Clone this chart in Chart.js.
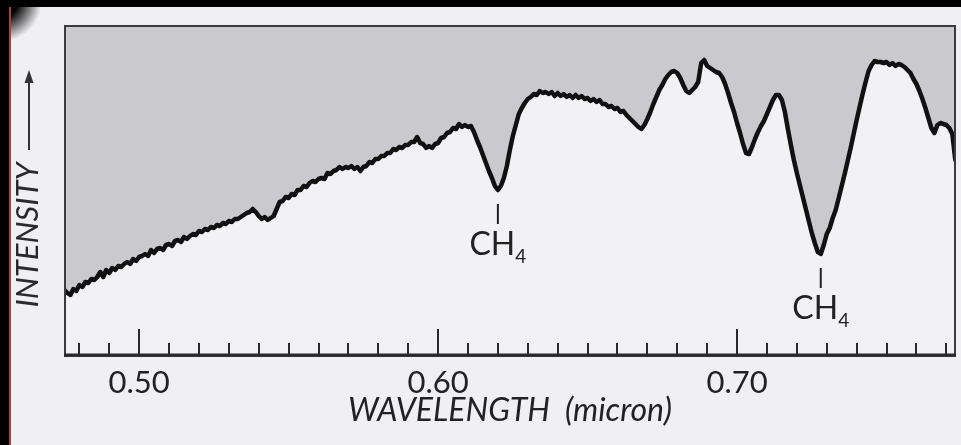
<!DOCTYPE html>
<html>
<head>
<meta charset="utf-8">
<script src="https://cdn.jsdelivr.net/npm/chart.js@4.4.1/dist/chart.umd.min.js"></script>
<style>
html,body{margin:0;padding:0;width:961px;height:445px;overflow:hidden;background:#f0f0f3;}
#page{position:relative;width:961px;height:445px;overflow:hidden;background:#f0f0f3;}
#page canvas{position:absolute;left:0;top:0;}
#topband{position:absolute;left:0;top:0;width:961px;height:7px;background:#000;}
#leftband{position:absolute;left:0;top:0;width:9px;height:445px;background:#000;}
#redline{position:absolute;left:9px;top:7px;width:2px;height:438px;background:#a84040;}
#corner{position:absolute;left:0;top:0;width:70px;height:70px;background:radial-gradient(circle at 0 0,#000 0px,#000 18px,rgba(0,0,0,0) 42px);}
</style>
</head>
<body>
<div id="page">
<canvas id="c" width="961" height="445"></canvas>
<div id="corner"></div><div id="topband"></div><div id="leftband"></div><div id="redline"></div>
</div>
<script>
// Wavelength samples (micron)
const wavelengths = [
0.475,0.476,0.477,0.478,0.479,0.480,0.481,0.482,0.483,0.484,
0.485,0.486,0.487,0.488,0.489,0.490,0.491,0.492,0.493,0.494,
0.495,0.496,0.497,0.498,0.499,0.500,0.501,0.502,0.503,0.504,
0.505,0.506,0.507,0.508,0.509,0.510,0.511,0.512,0.513,0.514,
0.515,0.516,0.517,0.518,0.519,0.520,0.521,0.522,0.523,0.524,
0.525,0.526,0.527,0.528,0.529,0.530,0.531,0.532,0.533,0.534,
0.535,0.536,0.537,0.538,0.539,0.540,0.541,0.542,0.543,0.544,
0.545,0.546,0.547,0.548,0.549,0.550,0.551,0.552,0.553,0.554,
0.555,0.556,0.557,0.558,0.559,0.560,0.561,0.562,0.563,0.564,
0.565,0.566,0.567,0.568,0.569,0.570,0.571,0.572,0.573,0.574,
0.575,0.576,0.577,0.578,0.579,0.580,0.581,0.582,0.583,0.584,
0.585,0.586,0.587,0.588,0.589,0.590,0.591,0.592,0.593,0.594,
0.595,0.596,0.597,0.598,0.599,0.600,0.601,0.602,0.603,0.604,
0.605,0.606,0.607,0.608,0.609,0.610,0.611,0.612,0.613,0.614,
0.615,0.616,0.617,0.618,0.619,0.620,0.621,0.622,0.623,0.624,
0.625,0.626,0.627,0.628,0.629,0.630,0.631,0.632,0.633,0.634,
0.635,0.636,0.637,0.638,0.639,0.640,0.641,0.642,0.643,0.644,
0.645,0.646,0.647,0.648,0.649,0.650,0.651,0.652,0.653,0.654,
0.655,0.656,0.657,0.658,0.659,0.660,0.661,0.662,0.663,0.664,
0.665,0.666,0.667,0.668,0.669,0.670,0.671,0.672,0.673,0.674,
0.675,0.676,0.677,0.678,0.679,0.680,0.681,0.682,0.683,0.684,
0.685,0.686,0.687,0.688,0.689,0.690,0.691,0.692,0.693,0.694,
0.695,0.696,0.697,0.698,0.699,0.700,0.701,0.702,0.703,0.704,
0.705,0.706,0.707,0.708,0.709,0.710,0.711,0.712,0.713,0.714,
0.715,0.716,0.717,0.718,0.719,0.720,0.721,0.722,0.723,0.724,
0.725,0.726,0.727,0.728,0.729,0.730,0.731,0.732,0.733,0.734,
0.735,0.736,0.737,0.738,0.739,0.740,0.741,0.742,0.743,0.744,
0.745,0.746,0.747,0.748,0.749,0.750,0.751,0.752,0.753,0.754,
0.755,0.756,0.757,0.758,0.759,0.760,0.761,0.762,0.763,0.764,
0.765,0.766,0.767,0.768,0.769,0.770,0.771,0.772,0.773
];

// Relative intensity (arbitrary units)
const intensity = [
66,63,61,67,65,71,69,74,73,77,
76,79,84,79,86,83,88,86,90,89,
92,94,92,97,95,99,100,102,100,106,
103,107,108,106,111,112,110,115,116,114,
119,117,120,122,121,125,124,127,126,129,
128,131,130,133,132,135,134,137,137,139,
141,143,144,147,144,140,137,139,136,138,
140,147,154,155,159,158,162,161,166,166,
170,169,173,175,174,177,178,177,183,182,
185,186,189,187,189,188,190,187,189,185,
189,190,194,193,197,197,200,200,203,203,
207,206,209,208,211,211,214,214,219,213,
212,208,210,208,212,213,218,219,223,224,
228,227,232,229,231,229,230,224,216,209,
201,193,185,178,170,166,170,178,190,206,
220,231,242,248,253,257,259,262,261,265,
263,264,262,264,260,263,260,262,259,261,
258,261,258,260,257,258,255,257,254,256,
252,252,249,250,247,248,244,245,241,238,
235,232,229,227,231,237,244,252,259,266,
271,277,281,284,285,283,278,271,265,263,
266,269,274,293,296,290,288,286,284,283,
279,272,263,253,244,233,223,212,203,202,
209,217,224,230,235,242,249,256,261,261,
256,244,227,211,196,183,171,159,147,135,
123,113,104,102,111,122,128,138,146,158,
170,182,195,208,222,236,249,262,274,285,
291,295,294,294,293,294,291,293,290,292,
291,289,286,283,277,272,265,257,248,238,
228,223,231,233,232,231,228,222,196
];

// Axis range and labels
const xMin = 0.4752, xMax = 0.7729;
const yMin = 0, yMax = 330;
const majorTickLabels = ['0.50', '0.60', '0.70'];
const xTitle = 'WAVELENGTH  (micron)';
const yTitle = 'INTENSITY';

// Absorption band annotations
const bandWavelengths = [0.620, 0.728];
const bandMain = ['CH', 'CH'];
const bandSub = ['4', '4'];

const INK = '#222222';
const FONT = 'Lato, "Open Sans", sans-serif';

const framePlugin = {
  id: 'framePlugin',
  beforeDatasetsDraw(chart) {
    const {ctx, chartArea: a} = chart;
    ctx.save();
    ctx.fillStyle = '#f2f2f5';
    ctx.fillRect(a.left, a.top, a.right - a.left, a.bottom - a.top);
    ctx.restore();
  },
  afterDatasetsDraw(chart) {
    const {ctx, chartArea: a, scales} = chart;
    const x = scales.x, y = scales.y;
    ctx.save();
    // inward tick marks
    ctx.strokeStyle = '#2a2a2a';
    ctx.lineWidth = 2;
    x.ticks.forEach(t => {
      const px = Math.round(x.getPixelForValue(t.value));
      const major = Math.round(t.value * 100) % 10 === 0;
      ctx.beginPath();
      ctx.moveTo(px, a.bottom);
      ctx.lineTo(px, a.bottom - (major ? 27 : 13));
      ctx.stroke();
    });
    // frame
    ctx.strokeStyle = '#3c3c40';
    ctx.lineWidth = 2;
    ctx.strokeRect(a.left, a.top, a.right - a.left, a.bottom - a.top);
    ctx.strokeStyle = '#2a2a2a';
    ctx.lineWidth = 3;
    ctx.beginPath();
    ctx.moveTo(a.left - 1, a.bottom - 1);
    ctx.lineTo(a.right + 1, a.bottom - 1);
    ctx.stroke();
    // band annotations
    bandWavelengths.forEach((wl, i) => {
      const idx = wavelengths.findIndex(w => Math.abs(w - wl) < 1e-6);
      const px = x.getPixelForValue(wl);
      const py = y.getPixelForValue(intensity[idx]);
      ctx.strokeStyle = INK;
      ctx.lineWidth = 2;
      ctx.beginPath();
      ctx.moveTo(px, py + 14);
      ctx.lineTo(px, py + 34);
      ctx.stroke();
      ctx.fillStyle = INK;
      ctx.textBaseline = 'alphabetic';
      ctx.textAlign = 'left';
      ctx.font = '32px ' + FONT;
      const wMain = ctx.measureText(bandMain[i]).width;
      ctx.font = '19px ' + FONT;
      const wSub = ctx.measureText(bandSub[i]).width;
      const x0 = px - (wMain + wSub) / 2;
      const base = py + 65;
      ctx.font = '32px ' + FONT;
      ctx.fillText(bandMain[i], x0, base);
      ctx.font = '19px ' + FONT;
      ctx.fillText(bandSub[i], x0 + wMain, base + 8);
    });
    ctx.restore();
  },
  afterDraw(chart) {
    const {ctx} = chart;
    ctx.save();
    // y title, rotated
    ctx.translate(38, 235);
    ctx.rotate(-Math.PI / 2);
    ctx.fillStyle = '#2a2a2a';
    ctx.font = 'italic 31px ' + FONT;
    ctx.textAlign = 'center';
    ctx.textBaseline = 'alphabetic';
    ctx.fillText(yTitle, 0, 0);
    ctx.restore();
    // upward arrow
    ctx.save();
    ctx.strokeStyle = '#333';
    ctx.fillStyle = '#333';
    ctx.lineWidth = 2;
    ctx.beginPath();
    ctx.moveTo(29, 150);
    ctx.lineTo(29, 80);
    ctx.stroke();
    ctx.beginPath();
    ctx.moveTo(29, 70);
    ctx.lineTo(33.5, 83);
    ctx.lineTo(24.5, 83);
    ctx.closePath();
    ctx.fill();
    ctx.restore();
  }
};

new Chart(document.getElementById('c'), {
  type: 'line',
  data: {
    datasets: [{
      data: wavelengths.map((w, i) => ({x: w, y: intensity[i]})),
      borderColor: '#111111',
      borderWidth: 4.5,
      pointRadius: 0,
      tension: 0,
      fill: 'end',
      backgroundColor: '#c9c9ce',
      borderJoinStyle: 'round',
      borderCapStyle: 'round'
    }]
  },
  options: {
    responsive: false,
    animation: false,
    devicePixelRatio: 1,
    layout: {padding: {left: 65, top: 26, right: 6, bottom: 0}},
    plugins: {legend: {display: false}, tooltip: {enabled: false}},
    scales: {
      x: {
        type: 'linear',
        min: xMin,
        max: xMax,
        afterFit(s) { s.height = 89; },
        grid: {display: false},
        border: {display: false},
        ticks: {
          stepSize: 0.01,
          includeBounds: false,
          autoSkip: false,
          maxRotation: 0,
          minRotation: 0,
          padding: 0,
          color: INK,
          font: {family: FONT, size: 31},
          callback(v) {
            const c = Math.round(v * 100);
            const lbl = (c / 100).toFixed(2);
            return majorTickLabels.includes(lbl) ? lbl : '';
          }
        },
        title: {
          display: true,
          text: xTitle,
          color: INK,
          font: {family: FONT, size: 32, style: 'italic'},
          padding: {top: 0, bottom: 15}
        }
      },
      y: {display: false, min: yMin, max: yMax}
    }
  },
  plugins: [framePlugin]
});
</script>
</body>
</html>
